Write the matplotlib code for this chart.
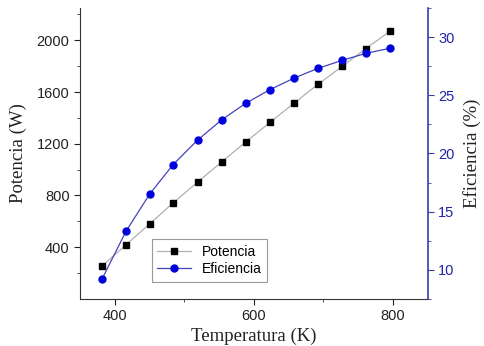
import matplotlib
matplotlib.use('Agg')
import matplotlib.pyplot as plt
from matplotlib.ticker import MultipleLocator

# data
temperatura = [382, 416, 450, 484, 519, 554, 588, 623, 658, 692, 727, 761, 795]
potencia = [255, 418, 580, 743, 903, 1061, 1213, 1365, 1515, 1659, 1799, 1936, 2068]
eficiencia = [9.25, 13.3, 16.5, 19.05, 21.15, 22.9, 24.3, 25.48, 26.48, 27.31, 28.0, 28.6, 29.03]
ticks_potencia = [400, 800, 1200, 1600, 2000]
minor_potencia = [200, 600, 1000, 1400, 1800, 2200]

azul = '#0000dd'
eje_azul = '#3a3aaa'

plt.rcParams['font.family'] = ['Liberation Sans', 'DejaVu Sans']

fig = plt.figure(figsize=(4.85, 3.46), dpi=100)
ax = fig.add_axes([0.165, 0.136, 0.717, 0.841])
ax2 = ax.twinx()

l1, = ax.plot(temperatura, potencia, color='#b0b0b0', lw=0.9, marker='s',
              ms=4.5, mfc='black', mec='black', label='Potencia')
l2, = ax2.plot(temperatura, eficiencia, color='#4444bb', lw=0.9, marker='o',
               ms=5, mfc=azul, mec=azul, label='Eficiencia')

ax.set_xlim(350, 850)
ax.set_ylim(0, 2250)
ax2.set_ylim(7.5, 32.5)

ax.xaxis.set_major_locator(MultipleLocator(200))
ax.xaxis.set_minor_locator(MultipleLocator(100))
ax.set_yticks(ticks_potencia)
ax.set_yticks(minor_potencia, minor=True)
ax2.yaxis.set_major_locator(MultipleLocator(5))
ax2.yaxis.set_minor_locator(MultipleLocator(2.5))

for a in (ax, ax2):
    a.spines['top'].set_visible(False)
ax.spines['right'].set_visible(False)
ax.spines['left'].set_color('#333333')
ax.spines['bottom'].set_color('#333333')
ax2.spines['left'].set_visible(False)
ax2.spines['bottom'].set_visible(False)
ax2.spines['right'].set_color(eje_azul)
ax2.spines['right'].set_linewidth(1.2)

ax.tick_params(axis='both', which='major', direction='out', length=4, labelsize=10.5, colors='#222222')
ax.tick_params(axis='both', which='minor', direction='out', length=2.5, colors='#333333')
ax2.tick_params(axis='y', which='major', direction='out', length=4, labelsize=10.5,
                colors=eje_azul, labelcolor='#2222aa')
ax2.tick_params(axis='y', which='minor', direction='out', length=2.5, colors=eje_azul)

serif = ['Liberation Serif', 'DejaVu Serif']
ax.set_xlabel('Temperatura (K)', fontsize=13.5, family=serif, color='#222222', labelpad=3)
ax.set_ylabel('Potencia (W)', fontsize=13.5, family=serif, color='#222222', labelpad=7)
ax2.set_ylabel('Eficiencia (%)', fontsize=13.5, family=serif, color='#222222', labelpad=6)

leg = ax.legend(handles=[l1, l2], loc='lower left', bbox_to_anchor=(0.206, 0.059),
                borderaxespad=0, fontsize=10, fancybox=False, framealpha=1,
                edgecolor='#999999', handlelength=2.4, borderpad=0.4, labelspacing=0.25)
leg.get_frame().set_linewidth(0.8)

fig.savefig('out.png', dpi=100)
